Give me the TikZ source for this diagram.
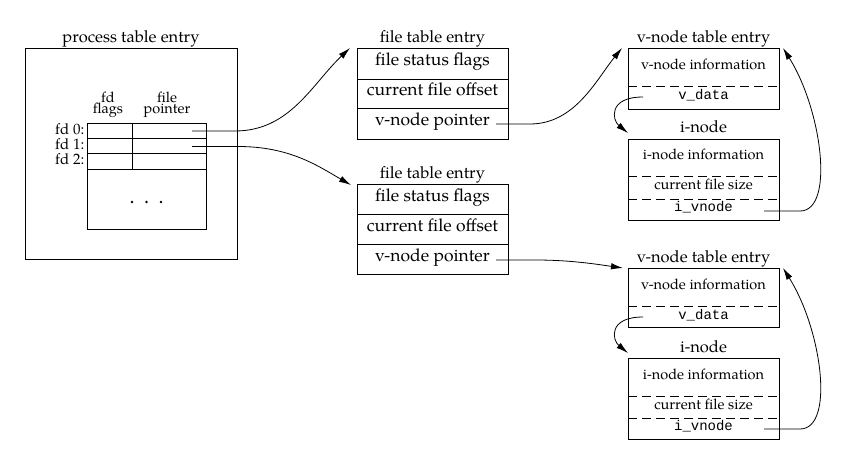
\documentclass[tikz,border=0pt]{standalone}
\usepackage{fontspec}
\setmainfont{TeX Gyre Pagella}
\setmonofont{Liberation Mono}
\usetikzlibrary{arrows.meta}
\begin{document}
\begin{tikzpicture}[x=1pt,y=-1pt,
  box/.style={draw,line width=0.8pt,rectangle,anchor=north west,inner sep=0pt,outer sep=0pt},
  ttl/.style={font=\fontsize{16.5}{18}\selectfont,inner sep=0pt,anchor=base},
  main/.style={font=\fontsize{17.5}{19}\selectfont,inner sep=0pt,anchor=mid},
  small/.style={font=\fontsize{14.5}{16}\selectfont,inner sep=0pt,anchor=mid},
  lbl/.style={font=\fontsize{15}{16}\selectfont,inner sep=0pt},
  hdr/.style={font=\fontsize{14.5}{11.5}\selectfont,inner sep=0pt,align=center},
  mono/.style={font=\fontsize{14}{16}\selectfont\ttfamily,inner sep=0pt,anchor=mid},
  arr/.style={line width=0.8pt,-{Latex[length=12pt,width=6.5pt]}},
  ln/.style={line width=0.8pt},
  dsh/.style={line width=0.8pt,dash pattern=on 9pt off 5pt}]
\useasboundingbox (0,0) rectangle (855,470);

% ---------- process table entry ----------
\node[ttl] (ptt) at (131,43) {process table entry};
\node[box,minimum width=212pt,minimum height=211pt] (pt) at (25,48) {};
\node[hdr,anchor=south] (hfd) at (108,118) {fd\\flags};
\node[hdr,anchor=south] (hfi) at (167,118) {file\\pointer};
\node[box,minimum width=45pt,minimum height=15pt] (c00) at (87,123) {};
\node[box,minimum width=74pt,minimum height=15pt] (c01) at (132,123) {};
\node[box,minimum width=45pt,minimum height=15pt] (c10) at (87,138) {};
\node[box,minimum width=74pt,minimum height=15pt] (c11) at (132,138) {};
\node[box,minimum width=45pt,minimum height=16pt] (c20) at (87,153) {};
\node[box,minimum width=74pt,minimum height=16pt] (c21) at (132,153) {};
\node[box,minimum width=119pt,minimum height=60pt] (rest) at (87,169) {};
\node[lbl,anchor=base east] (fd0) at (84.5,135) {fd 0:};
\node[lbl,anchor=base east] (fd1) at (84.5,150) {fd 1:};
\node[lbl,anchor=base east] (fd2) at (84.5,165) {fd 2:};
\fill (132,202) circle (1.4pt) (146.5,202) circle (1.4pt) (161,202) circle (1.4pt);
\coordinate (p0) at (192,131);
\coordinate (p1) at (192,146.5);

% ---------- file table entries ----------
\node[ttl] (ft1t) at (432.5,43) {file table entry};
\node[box,minimum width=151pt,minimum height=91pt] (ft1) at (357,48) {};
\draw[ln] (357,79) -- (508,79) (357,108) -- (508,108);
\node[main] (ft1a) at (432.5,63.5) {file status flags};
\node[main] (ft1b) at (432.5,93.5) {current file offset};
\node[main] (ft1c) at (432.5,123.5) {v-node pointer};
\coordinate (ft1p) at (496,124);
\coordinate (ft1in) at (350,48);

\node[ttl] (ft2t) at (432.5,179) {file table entry};
\node[box,minimum width=151pt,minimum height=90pt] (ft2) at (357,184) {};
\draw[ln] (357,214) -- (508,214) (357,244) -- (508,244);
\node[main] (ft2a) at (432.5,199) {file status flags};
\node[main] (ft2b) at (432.5,229) {current file offset};
\node[main] (ft2c) at (432.5,259) {v-node pointer};
\coordinate (ft2p) at (496,260);
\coordinate (ft2in) at (351,185);

% ---------- v-node / i-node 1 ----------
\node[ttl] (vn1t) at (703.5,43) {v-node table entry};
\node[box,minimum width=151pt,minimum height=61pt] (vn1) at (628,48) {};
\draw[dsh] (628,86) -- (779,86);
\node[small] (vn1a) at (703.5,67) {v-node information};
\node[mono] (vn1b) at (703.5,97.5) {v\_data};
\coordinate (vd1) at (643,97);
\coordinate (vn1in) at (622,48);
\coordinate (vn1r) at (783,48);

\node[ttl] (in1t) at (703.5,133) {i-node};
\node[box,minimum width=151pt,minimum height=81pt] (in1) at (628,139) {};
\draw[dsh] (628,176) -- (779,176) (628,199) -- (779,199);
\node[small] (in1a) at (703.5,157.5) {i-node information};
\node[small] (in1b) at (703.5,187.5) {current file size};
\node[mono] (in1c) at (703.5,209.5) {i\_vnode};
\coordinate (iv1) at (764,211);
\coordinate (in1in) at (628,133);

% ---------- v-node / i-node 2 ----------
\node[ttl] (vn2t) at (703.5,263) {v-node table entry};
\node[box,minimum width=151pt,minimum height=59pt] (vn2) at (628,268) {};
\draw[dsh] (628,306) -- (779,306);
\node[small] (vn2a) at (703.5,287) {v-node information};
\node[mono] (vn2b) at (703.5,317) {v\_data};
\coordinate (vd2) at (643,317);
\coordinate (vn2in) at (623,268);
\coordinate (vn2r) at (783,268);

\node[ttl] (in2t) at (703.5,353) {i-node};
\node[box,minimum width=151pt,minimum height=81pt] (in2) at (628,358) {};
\draw[dsh] (628,396) -- (779,396) (628,418) -- (779,418);
\node[small] (in2a) at (703.5,377) {i-node information};
\node[small] (in2b) at (703.5,407) {current file size};
\node[mono] (in2c) at (703.5,428.5) {i\_vnode};
\coordinate (iv2) at (764,429);
\coordinate (in2in) at (628,353);

% ---------- connectors ----------
\draw[arr] (p0) -- (235,131) .. controls (290,131) and (312,84) .. (ft1in);
\draw[arr] (p1) -- (238,146.5) .. controls (290,146.5) and (318,166) .. (ft2in);
\draw[arr] (ft1p) -- (530,124) .. controls (575,124) and (596,80) .. (vn1in);
\draw[arr] (ft2p) -- (535,260) .. controls (570,260) and (595,264) .. (vn2in);
\draw[arr] (vd1) .. controls (608,97) and (612,120) .. (in1in);
\draw[arr] (vd2) .. controls (608,317) and (612,340) .. (in2in);
\draw[arr] (iv1) -- (800,211) .. controls (835,211) and (822,110) .. (vn1r);
\draw[arr] (iv2) -- (800,429) .. controls (835,429) and (822,330) .. (vn2r);
\end{tikzpicture}
\end{document}
